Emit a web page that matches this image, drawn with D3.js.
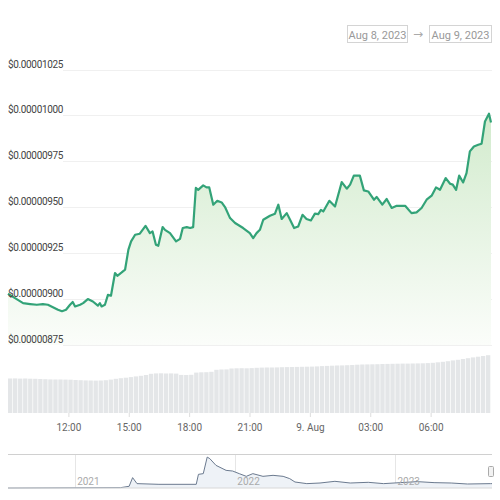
<!DOCTYPE html>
<html>
<head>
<meta charset="utf-8">
<script src="https://cdn.jsdelivr.net/npm/d3@7"></script>
<style>
  body { margin: 0; background: #fff; }
  svg { display: block; font-family: Roboto, "Noto Sans", sans-serif; }
</style>
</head>
<body>
<svg width="500" height="500"></svg>
<script>
var svg = d3.select("svg");

// price series, Aug 8 09:00 -> Aug 9 09:00 (day + time)
var priceTimes = [
  "08 09:00","08 09:21","08 09:45","08 10:06","08 10:26","08 10:44","08 10:59","08 11:14","08 11:29","08 11:41",
  "08 11:53","08 12:05","08 12:13","08 12:20","08 12:35","08 12:44","08 12:58","08 13:13","08 13:28","08 13:34",
  "08 13:39","08 13:49","08 13:58","08 14:07","08 14:19","08 14:26","08 14:39","08 14:49","08 14:59","08 15:07",
  "08 15:19","08 15:33","08 15:50","08 16:03","08 16:11","08 16:21","08 16:28","08 16:41","08 16:48","08 17:03",
  "08 17:21","08 17:33","08 17:41","08 17:53","08 18:03","08 18:12","08 18:20","08 18:27","08 18:42","08 18:52",
  "08 19:00","08 19:12","08 19:24","08 19:37","08 19:47","08 20:02","08 20:17","08 20:41","08 21:01","08 21:11",
  "08 21:21","08 21:31","08 21:41","08 22:01","08 22:16","08 22:26","08 22:36","08 22:51","08 23:01","08 23:13",
  "08 23:25","08 23:38","08 23:50","09 00:03","09 00:15","09 00:25","09 00:33","09 00:40","09 00:58","09 01:15",
  "09 01:35","09 01:50","09 02:00","09 02:11","09 02:29","09 02:41","09 02:54","09 03:11","09 03:19","09 03:36",
  "09 03:49","09 04:04","09 04:19","09 04:44","09 05:03","09 05:18","09 05:33","09 05:48","09 06:03","09 06:16",
  "09 06:28","09 06:45","09 06:58","09 07:06","09 07:16","09 07:25","09 07:37","09 07:47","09 07:57","09 08:09",
  "09 08:22","09 08:32","09 08:42","09 08:54","09 09:00"
];
// price in millionths of a dollar
var priceValues = [
  9.029,9.005,8.978,8.973,8.969,8.973,8.969,8.956,8.942,8.934,
  8.942,8.969,8.984,8.960,8.969,8.978,9.000,8.987,8.964,8.978,
  8.960,8.969,9.023,9.018,9.142,9.127,9.145,9.160,9.269,9.314,
  9.350,9.356,9.399,9.359,9.368,9.296,9.290,9.392,9.377,9.359,
  9.314,9.328,9.387,9.392,9.387,9.392,9.605,9.595,9.619,9.608,
  9.608,9.514,9.535,9.526,9.501,9.441,9.414,9.387,9.359,9.332,
  9.359,9.377,9.432,9.454,9.465,9.514,9.436,9.468,9.432,9.387,
  9.395,9.459,9.436,9.428,9.465,9.463,9.486,9.477,9.535,9.504,
  9.637,9.601,9.623,9.672,9.672,9.592,9.586,9.541,9.556,9.514,
  9.545,9.496,9.508,9.508,9.468,9.472,9.496,9.541,9.563,9.608,
  9.595,9.659,9.628,9.623,9.595,9.672,9.635,9.686,9.804,9.831,
  9.840,9.846,9.967,10.009,9.962
];

// 15-minute volume bars ($M), from 09:00
var volumeValues = [
  138,138.4,137.6,138,137.2,136.8,136,135.2,134.4,134,
  134,133.6,133.2,132,131.2,130.4,130,129.6,130,131.2,
  133.6,136.8,139.2,141.2,143.6,146.4,148.8,152,156.8,158.4,
  158.8,158,158.4,157.6,152.4,152,152.8,161.6,162.8,163.2,
  164.8,172.8,174,174.4,178,178.8,179.2,178.8,179.6,180.8,
  181.6,182,182,182.4,183.2,183.6,184,184.4,184.8,185.2,
  185.6,186.4,187.6,188.4,189.2,190,190.4,191.2,192,193.2,
  194,194.4,194.8,195.2,196,196.4,196.8,197.2,197.6,197.6,
  198,198.4,198.8,199.6,200.8,202.8,204.8,207.2,210.4,212.8,
  216,219.2,222.4,225.2,228,231.2
];

var yTicks = [8.75, 9.00, 9.25, 9.50, 9.75, 10.00, 10.25];
var xTickTimes = ["08 12:00","08 15:00","08 18:00","08 21:00","09 00:00","09 03:00","09 06:00"];

// navigator (full history)
var navDates = [
  "2020-08-01","2021-04-15","2021-05-04","2021-05-12","2021-05-22","2021-07-11","2021-10-04","2021-10-09",
  "2021-10-20","2021-10-29","2021-11-04","2021-11-18","2021-12-11","2021-12-26","2022-01-10","2022-01-26",
  "2022-02-10","2022-03-05","2022-03-28","2022-04-20","2022-05-05","2022-05-17","2022-06-13","2022-07-13",
  "2022-08-16","2022-09-20","2022-10-31","2022-12-05","2023-01-12","2023-02-20","2023-03-30","2023-05-08",
  "2023-06-14","2023-08-06","2023-08-09"
];
var navValues = [
  0.0,1.0,4.4,27.0,11.4,9.6,9.6,35.6,
  37.4,80.6,76.4,59.0,46.0,44.2,37.4,30.4,
  37.4,30.4,33.0,30.4,24.4,15.6,11.4,13.0,
  17.4,13.0,14.8,11.4,14.0,16.6,14.0,13.0,
  10.4,11.4,11.4
];
var navYears = ["2021","2022","2023"];

var rangeLabels = ["Aug 8, 2023", "Aug 9, 2023"];

var parseT = function(s) { return d3.timeParse("%Y-%m-%d %H:%M")("2023-08-" + s); };
var parseD = d3.timeParse("%Y-%m-%d");

var priceData = priceTimes.map(function(t, i) { return {t: parseT(t), v: priceValues[i] * 1e-6}; });
var navData = navDates.map(function(d, i) { return {t: parseD(d), v: navValues[i] * 1e-6}; });

var start = parseT("08 09:00"), end = parseT("09 09:00");

var x = d3.scaleTime().domain([start, end]).range([8, 491]);
var y = d3.scaleLinear().domain([8.75e-6, 10.25e-6]).range([345, 69.5]);
var yVol = d3.scaleLinear().domain([0, 240]).range([413, 353]);

// range boxes
var boxes = [{x: 347, w: 60}, {x: 429, w: 62}];
boxes.forEach(function(b, i) {
  svg.append("rect").attr("x", b.x + 0.5).attr("y", 25.5).attr("width", b.w).attr("height", 17)
    .attr("fill", "#fff").attr("stroke", "#d4d4d4");
  svg.append("text").attr("x", b.x + b.w / 2 + 0.5).attr("y", 38.5).attr("text-anchor", "middle")
    .attr("font-size", "11px").attr("fill", "#999").text(rangeLabels[i]);
});
svg.append("text").attr("x", 418).attr("y", 38).attr("text-anchor", "middle")
  .attr("font-size", "12px").attr("fill", "#aaa").attr("font-family", "DejaVu Sans").text("→");

// grid
svg.append("g").selectAll("line").data(yTicks).enter().append("line")
  .attr("x1", 63).attr("x2", 492)
  .attr("y1", function(d) { return Math.round(y(d * 1e-6)) + 0.5; })
  .attr("y2", function(d) { return Math.round(y(d * 1e-6)) + 0.5; })
  .attr("stroke", "#f0f0f0");

// volume bars
var step = (x(end) - x(start)) / volumeValues.length;
svg.append("g").selectAll("rect").data(volumeValues).enter().append("rect")
  .attr("x", function(d, i) { return x(d3.timeMinute.offset(start, i * 15)); })
  .attr("width", step - 0.7)
  .attr("y", function(d) { return yVol(d); })
  .attr("height", function(d) { return yVol(0) - yVol(d); })
  .attr("fill", "#e4e6e8");

// area + line
var grad = svg.append("defs").append("linearGradient").attr("id", "g1")
  .attr("gradientUnits", "userSpaceOnUse").attr("x1", 0).attr("x2", 0).attr("y1", 114).attr("y2", 345);
grad.append("stop").attr("offset", 0).attr("stop-color", "#d2ebcd");
grad.append("stop").attr("offset", 1).attr("stop-color", "#fbfdfa");

svg.append("path").datum(priceData)
  .attr("d", d3.area().x(function(d) { return x(d.t); }).y0(345).y1(function(d) { return y(d.v); }))
  .attr("fill", "url(#g1)");

svg.append("path").datum(priceData)
  .attr("d", d3.line().x(function(d) { return x(d.t); }).y(function(d) { return y(d.v); }))
  .attr("fill", "none").attr("stroke", "#33a378").attr("stroke-width", 2.2).attr("stroke-linejoin", "round");

// y labels
svg.append("g").selectAll("text").data(yTicks).enter().append("text")
  .attr("x", 8).attr("y", function(d) { return y(d * 1e-6) - 2; })
  .attr("font-size", "10px").attr("fill", "#444").attr("letter-spacing", "-0.35px")
  .text(function(d) { return "$" + d3.format(".8f")(d * 1e-6); });

// x axis
var xAxis = d3.axisBottom(x)
  .tickValues(xTickTimes.map(parseT))
  .tickSize(4)
  .tickFormat(function(d) { return d.getHours() === 0 ? "9. Aug" : d3.timeFormat("%H:%M")(d); });
var gx = svg.append("g").attr("transform", "translate(0,413)").call(xAxis);
gx.select(".domain").remove();
gx.selectAll("line").attr("stroke", "#ddd");
gx.selectAll("text").attr("font-size", "10px").attr("fill", "#666").attr("dy", "1.1em")
  .attr("font-family", "Roboto, sans-serif");

// navigator
var xNav = d3.scaleTime().domain([parseD("2020-08-01"), parseD("2023-08-09")]).range([8, 492]);
var yNav = d3.scaleLinear().domain([0, 86e-6]).range([488, 455]);

svg.append("line").attr("x1", 8).attr("x2", 492).attr("y1", 454.5).attr("y2", 454.5).attr("stroke", "#d0d0d0");
svg.append("g").selectAll("line").data(navYears).enter().append("line")
  .attr("x1", function(d) { return Math.round(xNav(parseD(d + "-01-01"))) + 0.5; })
  .attr("x2", function(d) { return Math.round(xNav(parseD(d + "-01-01"))) + 0.5; })
  .attr("y1", 455).attr("y2", 488).attr("stroke", "#e6e6e6");

svg.append("path").datum(navData)
  .attr("d", d3.area().x(function(d) { return xNav(d.t); }).y0(488).y1(function(d) { return yNav(d.v); }))
  .attr("fill", "#eef2f7");
svg.append("path").datum(navData)
  .attr("d", d3.line().x(function(d) { return xNav(d.t); }).y(function(d) { return yNav(d.v); }))
  .attr("fill", "none").attr("stroke", "#6b7a8f").attr("stroke-width", 1);

svg.append("line").attr("x1", 8).attr("x2", 492).attr("y1", 488).attr("y2", 488).attr("stroke", "#d8d8d8");

svg.append("g").selectAll("text").data(navYears).enter().append("text")
  .attr("x", function(d) { return xNav(parseD(d + "-01-01")) + 2; })
  .attr("y", 485).attr("font-size", "10px").attr("fill", "#aaa").text(function(d) { return d; });

// navigator handle
svg.append("rect").attr("x", 488.5).attr("y", 466.5).attr("width", 5).attr("height", 10).attr("rx", 1)
  .attr("fill", "#f2f2f2").attr("stroke", "#aaa");
</script>
</body>
</html>
